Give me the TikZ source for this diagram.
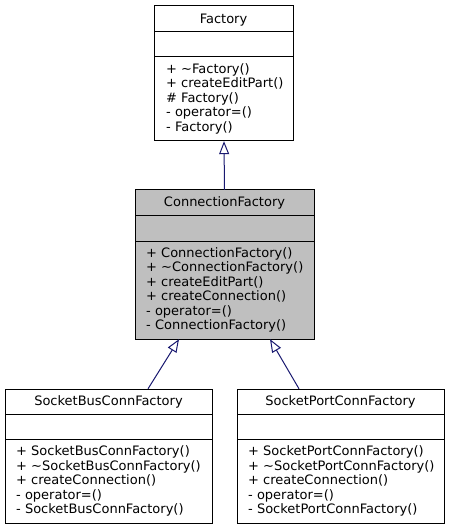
\documentclass[tikz,border=0pt]{standalone}
\usepackage{fontspec}
\setmainfont{DejaVu Sans}
\usetikzlibrary{arrows.meta}
\definecolor{boxgray}{HTML}{BFBFBF}
\definecolor{edgeblue}{HTML}{191970}
\tikzset{
  title/.style={font=\fontsize{13}{14.5}\selectfont, inner sep=0pt, anchor=base},
  members/.style={font=\fontsize{13}{14.5}\selectfont, inner sep=0pt, anchor=base west, align=left},
  divider/.style={draw=black, line width=1pt},
  inherit/.style={draw=edgeblue, line width=1pt, -{Triangle[open, length=13pt, width=10pt, fill=white]}},
}
\begin{document}
\begin{tikzpicture}[x=1pt, y=-1pt]
\useasboundingbox (0,0) rectangle (450,529);
% Factory
\draw[line width=1pt, fill=white] (154,6) rectangle (293,141);
\node[draw=none, minimum width=139pt, minimum height=135pt, inner sep=0pt] (fac) at (223.5,73.5) {};
\draw[divider] (154,32) -- (293,32);
\draw[divider] (154,57) -- (293,57);
\node[title] (factitle) at (223.5,24) {Factory};
\node[members] (facmem) at (166,131.5) {+ \textasciitilde Factory()\\+ createEditPart()\\\# Factory()\\- operator=()\\- Factory()};
% ConnectionFactory
\draw[line width=1pt, fill=boxgray] (135,190) rectangle (314,339);
\node[draw=none, minimum width=179pt, minimum height=149pt, inner sep=0pt] (cf) at (224.5,264.5) {};
\draw[divider] (135,215) -- (314,215);
\draw[divider] (135,241) -- (314,241);
\node[title] (cftitle) at (224.5,207) {ConnectionFactory};
\node[members] (cfmem) at (146,329.5) {+ ConnectionFactory()\\+ \textasciitilde ConnectionFactory()\\+ createEditPart()\\+ createConnection()\\- operator=()\\- ConnectionFactory()};
% SocketBusConnFactory
\draw[line width=1pt, fill=white] (5,389) rectangle (212,523);
\node[draw=none, minimum width=207pt, minimum height=134pt, inner sep=0pt] (sb) at (108.5,456) {};
\draw[divider] (5,414) -- (212,414);
\draw[divider] (5,439) -- (212,439);
\node[title] (sbtitle) at (108.5,405.5) {SocketBusConnFactory};
\node[members] (sbmem) at (16,513.5) {+ SocketBusConnFactory()\\+ \textasciitilde SocketBusConnFactory()\\+ createConnection()\\- operator=()\\- SocketBusConnFactory()};
% SocketPortConnFactory
\draw[line width=1pt, fill=white] (237,389) rectangle (444,523);
\node[draw=none, minimum width=207pt, minimum height=134pt, inner sep=0pt] (sp) at (340.5,456) {};
\draw[divider] (237,414) -- (444,414);
\draw[divider] (237,439) -- (444,439);
\node[title] (sptitle) at (340.5,405.5) {SocketPortConnFactory};
\node[members] (spmem) at (248,513.5) {+ SocketPortConnFactory()\\+ \textasciitilde SocketPortConnFactory()\\+ createConnection()\\- operator=()\\- SocketPortConnFactory()};
% edges
\draw[inherit] (cf.north) -- ([xshift=0.5pt]fac.south);
\draw[inherit] ([xshift=39.5pt]sb.north) -- ([xshift=-45.5pt]cf.south);
\draw[inherit] ([xshift=-41.5pt]sp.north) -- ([xshift=45.5pt]cf.south);
\end{tikzpicture}
\end{document}
